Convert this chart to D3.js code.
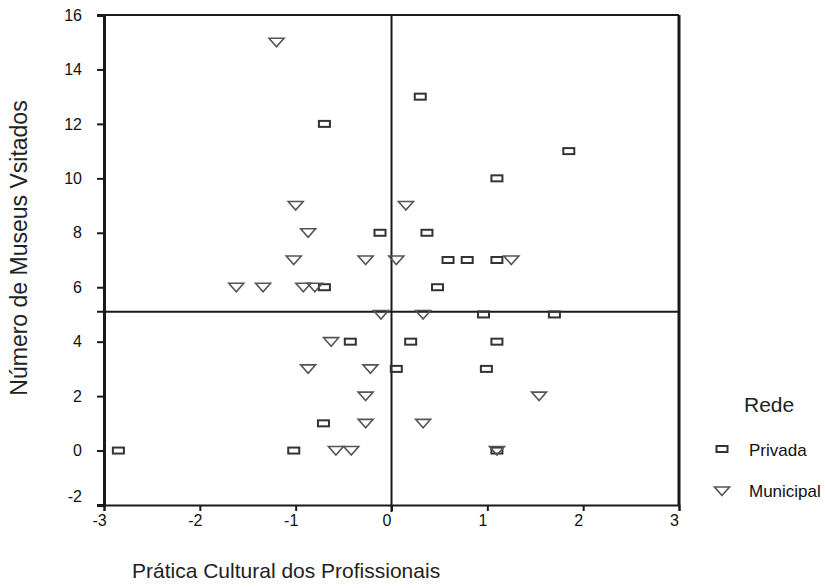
<!DOCTYPE html>
<html>
<head>
<meta charset="utf-8">
<script src="https://cdn.jsdelivr.net/npm/d3@7"></script>
<style>
  body { margin: 0; background: #fff; }
  svg { display: block; font-family: "Liberation Sans", Arial, sans-serif; }
</style>
</head>
<body>
<svg id="chart" width="825" height="588"></svg>
<script>
// ---- data ----
const seriesNames = ["Privada", "Municipal"];
const privadaX = [-0.70, 0.30, 1.85, 1.10, -0.12, 0.37, 0.59, 0.79, 1.10, 0.48, -0.70, 0.96, 1.70, -0.43, 0.20, 1.10, 0.05, 0.99, -0.71, -2.85, -1.02, 1.10];
const privadaY = [12, 13, 11, 10, 8, 8, 7, 7, 7, 6, 6, 5, 5, 4, 4, 4, 3, 3, 1, 0, 0, 0];
const municipalX = [-1.20, -1.00, 0.15, -0.87, -1.02, -0.27, 0.05, 1.25, -1.62, -1.34, -0.92, -0.80, -0.11, 0.33, -0.63, -0.22, -0.87, -0.27, 1.54, -0.27, 0.33, -0.58, -0.42, 1.10];
const municipalY = [15, 9, 9, 8, 7, 7, 7, 7, 6, 6, 6, 6, 5, 5, 4, 3, 3, 2, 2, 1, 1, 0, 0, 0];
const xTicks = [-3, -2, -1, 0, 1, 2, 3];
const yTicks = [-2, 0, 2, 4, 6, 8, 10, 12, 14, 16];
const refX = 0;     // vertical reference line
const refY = 5.1;   // horizontal reference line
const xTitle = "Prática Cultural dos Profissionais";
const yTitle = "Número de Museus Vsitados";
const legendTitle = "Rede";

// ---- layout ----
const svg = d3.select("#chart");
const x = d3.scaleLinear().domain([-3, 3]).range([104, 679]);
const y = d3.scaleLinear().domain([-2, 16]).range([505, 15]);
const ink = "#1a1a1a";
const fmt = d => String(d);

// axes
const gx = svg.append("g").attr("transform", `translate(0,${y(-2)})`)
  .call(d3.axisBottom(x).tickValues(xTicks).tickSize(6).tickFormat(fmt));
gx.select(".domain").attr("stroke", ink).attr("stroke-width", 2);
gx.selectAll(".tick line").attr("stroke", ink).attr("stroke-width", 2);
gx.selectAll(".tick text").attr("y", 21).attr("dy", 0).attr("x", -5)
  .attr("fill", "#111").style("font-size", "16px");

const gy = svg.append("g").attr("transform", `translate(${x(-3)},0)`)
  .call(d3.axisLeft(y).tickValues(yTicks).tickSize(7).tickPadding(15).tickFormat(fmt));
gy.select(".domain").attr("stroke", ink).attr("stroke-width", 3);
gy.selectAll(".tick line").attr("stroke", ink).attr("stroke-width", 2);
gy.selectAll(".tick text").attr("fill", "#111").style("font-size", "16px")
  .attr("dy", d => d === -2 ? "-0.2em" : "0.32em");

// frame top/right
svg.append("line").attr("x1", x(-3)).attr("x2", x(3)).attr("y1", y(16)).attr("y2", y(16))
  .attr("stroke", ink).attr("stroke-width", 2);
svg.append("line").attr("x1", x(3)).attr("x2", x(3)).attr("y1", y(16)).attr("y2", y(-2))
  .attr("stroke", ink).attr("stroke-width", 3);

// reference lines
svg.append("line").attr("x1", x(-3) - 7).attr("x2", x(3)).attr("y1", y(refY)).attr("y2", y(refY))
  .attr("stroke", ink).attr("stroke-width", 2);
svg.append("line").attr("x1", x(refX)).attr("x2", x(refX)).attr("y1", y(16)).attr("y2", y(-2) + 7)
  .attr("stroke", ink).attr("stroke-width", 2);

// markers
const triPath = "M-7.5,-4L7.5,-4L0,4.5Z";
function drawSquare(g, cx, cy) {
  g.append("rect").attr("x", cx - 5.5).attr("y", cy - 3).attr("width", 11).attr("height", 6)
    .attr("fill", "none").attr("stroke", "#333").attr("stroke-width", 2);
}
function drawTri(g, cx, cy) {
  g.append("path").attr("d", triPath).attr("transform", `translate(${cx},${cy})`)
    .attr("fill", "none").attr("stroke", "#555").attr("stroke-width", 1.6);
}
const marks = svg.append("g");
privadaX.forEach((v, i) => drawSquare(marks, x(v), y(privadaY[i])));
municipalX.forEach((v, i) => drawTri(marks, x(v), y(municipalY[i])));

// titles
svg.append("text").attr("x", 132).attr("y", 578).attr("fill", "#222")
  .style("font-size", "21px").text(xTitle);
svg.append("text").attr("transform", "translate(27,248) rotate(-90)").attr("text-anchor", "middle")
  .attr("fill", "#222").style("font-size", "23px").text(yTitle);

// legend
const lg = svg.append("g");
lg.append("text").attr("x", 744).attr("y", 412).attr("fill", "#222").style("font-size", "21px").text(legendTitle);
drawSquare(lg, 722, 449);
lg.append("text").attr("x", 749).attr("y", 456).attr("fill", "#111").style("font-size", "17px").text(seriesNames[0]);
drawTri(lg, 722, 491);
lg.append("text").attr("x", 749).attr("y", 497).attr("fill", "#111").style("font-size", "17px").text(seriesNames[1]);
</script>
</body>
</html>
